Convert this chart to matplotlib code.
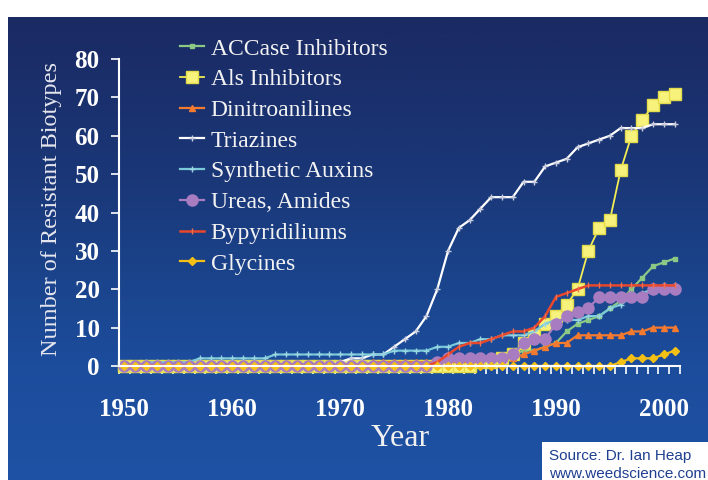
import matplotlib
matplotlib.use("Agg")
import matplotlib.pyplot as plt
import numpy as np
from matplotlib.colors import LinearSegmentedColormap

# ---- data (resistant biotypes per year, 1950..2001) ----
years = list(range(1950, 2002))
tick_years = [1950, 1960, 1970, 1980, 1990, 2000]

accase = [0] * 32 + [1, 1, 2, 2, 3, 4, 4, 5, 6, 9, 11, 12, 13, 15, 17, 20, 23, 26, 27, 28]
als = [0] * 33 + [1, 1, 2, 3, 6, 8, 11, 13, 16, 20, 30, 36, 38, 51, 60, 64, 68, 70, 71]
dinitro = [0] * 23 + [1] * 11 + [2, 2, 2, 3, 4, 5, 6, 6, 8, 8, 8, 8, 8, 9, 9, 10, 10, 10]
triazines = [0] * 20 + [1, 2, 2, 3, 3, 5, 7, 9, 13, 20, 30, 36, 38, 41, 44, 44, 44, 48, 48,
                        52, 53, 54, 57, 58, 59, 60, 62, 62, 62, 63, 63, 63]
auxins = [0, 0] + [1] * 5 + [2] * 7 + [3] * 11 + [4] * 4 + [5, 5, 6, 6, 7, 7, 8, 8, 8, 9, 11, 12,
                                                        12, 12, 13, 13, 15, 16, 18, 19, 20, 21, 21]
ureas = [0] * 29 + [1, 2, 2, 2, 2, 2, 2, 3, 6, 7, 7, 11, 13, 14, 15, 18, 18, 18, 18, 18, 20, 20, 20]
bypyr = [0] * 29 + [1, 3, 5, 6, 6, 7, 8, 9, 9, 10, 13, 18, 19, 20] + [21] * 9
glycines = [0] * 46 + [1, 2, 2, 2, 3, 4]

labels = ["ACCase Inhibitors", "Als Inhibitors", "Dinitroanilines", "Triazines",
          "Synthetic Auxins", "Ureas, Amides", "Bypyridiliums", "Glycines"]

W, H = 708, 480
fig = plt.figure(figsize=(W / 100, H / 100), dpi=100, facecolor="white")

# blue gradient backdrop
bg = fig.add_axes([8 / W, 0, (W - 8) / W, (H - 17) / H], zorder=0)
stops = [(0.0, "#1a2a63"), (0.35, "#1a3778"), (0.6, "#1b468f"), (0.75, "#1c4c9c"), (1.0, "#1f52a4")]
cmap = LinearSegmentedColormap.from_list("bg", stops)
bg.imshow(np.linspace(0, 1, 256).reshape(-1, 1), aspect="auto", cmap=cmap,
          extent=[0, 1, 1, 0])
bg.set_axis_off()

ax = fig.add_axes([119 / W, (H - 366) / H, (680 - 119) / W, (366 - 59) / H], zorder=1)
ax.set_facecolor("none")

series = [
    (accase, dict(color="#8cc985", lw=1.6, marker="s", ms=3.5, mfc="#8cc985", mec="#8cc985")),
    (als, dict(color="#f2ec55", lw=1.3, marker="s", ms=8, mfc="#f6f27c", mec="#e2db4a")),
    (dinitro, dict(color="#f47a30", lw=1.6, marker="^", ms=4.5, mfc="#f47a30", mec="#f47a30")),
    (triazines, dict(color="white", lw=1.6, marker="+", ms=4, mec="#c9cddd")),
    (auxins, dict(color="#79c9d8", lw=1.6, marker="+", ms=4, mec="#9ad6e2")),
    (ureas, dict(color="#a87cc0", lw=1.6, marker="o", ms=8, mfc="#a87cc0", mec="#a87cc0")),
    (bypyr, dict(color="#e9472b", lw=1.8, marker="|", ms=4, mec="#f07050")),
    (glycines, dict(color="#f4c016", lw=1.6, marker="D", ms=4, mfc="#f4c016", mec="#f4c016")),
]
for (vals, kw), lab in zip(series, labels):
    ax.plot(years, vals, label=lab, clip_on=False, **kw)

ax.set_xlim(1949.5, 2001.5)
ax.set_ylim(0, 80)
ax.set_yticks(range(0, 81, 10))
ax.set_xticks(tick_years)
ax.set_xticks([y - 0.5 for y in years] + [2001.5], minor=True)

for s in ["top", "right"]:
    ax.spines[s].set_visible(False)
for s in ["left", "bottom"]:
    ax.spines[s].set_color("white")
    ax.spines[s].set_linewidth(1.5)

ax.tick_params(axis="y", direction="out", length=6, width=1.2, color="white",
               labelcolor="white", pad=8)
ax.tick_params(axis="x", which="major", length=0, labelcolor="white", pad=23)
ax.tick_params(axis="x", which="minor", direction="out", length=6, width=1.2, color="white")
for t in ax.get_xticklabels() + ax.get_yticklabels():
    t.set_fontfamily("Liberation Serif")
    t.set_fontweight("bold")
    t.set_fontsize(18)

fig.text(52 / W, 1 - 209 / H, "Number of Resistant Biotypes", rotation=90,
         ha="center", va="center", color="#e6e6ee", family="Liberation Serif", size=17.5)
fig.text(400 / W, 1 - 438 / H, "Year", ha="center", va="center", color="#f0f0f0",
         family="Liberation Serif", size=23)

leg = ax.legend(loc="upper left", bbox_to_anchor=(180 / W, 1 - 38 / H),
                bbox_transform=fig.transFigure, frameon=False, borderpad=0,
                borderaxespad=0, handlelength=1.0, handletextpad=0.3,
                labelspacing=0.39, prop=dict(family="Liberation Serif", size=17))
for t in leg.get_texts():
    t.set_color("#f2f2f2")

# source box
fig.patches.append(plt.Rectangle((542 / W, 0), (W - 542) / W, 38 / H,
                                 transform=fig.transFigure, facecolor="white",
                                 edgecolor="none", zorder=2))
fig.text(549 / W, 1 - 456 / H, "Source: Dr. Ian Heap", ha="left", va="center",
         color="#1f3f8f", family="Liberation Sans", size=11, zorder=3)
fig.text(549 / W, 1 - 474 / H, "www.weedscience.com", ha="left", va="center",
         color="#1f3f8f", family="Liberation Sans", size=11, zorder=3)

fig.savefig("out.png", dpi=100, facecolor="white")
